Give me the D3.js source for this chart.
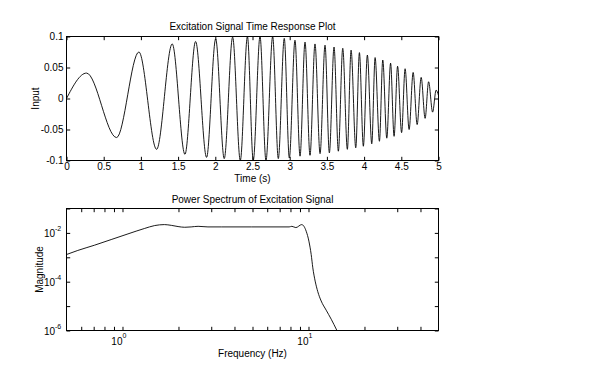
<!DOCTYPE html>
<html>
<head>
<meta charset="utf-8">
<script src="https://cdn.jsdelivr.net/npm/d3@7"></script>
<style>
  body { margin: 0; background: #fff; }
  svg { display: block; }
  text { fill: #000; }
</style>
</head>
<body>
<script>
// excitation signal: peaks and troughs (s, input)
const signalTime = [0,
  0.269, 0.673, 0.973, 1.211, 1.421, 1.592, 1.735, 1.883, 2.005, 2.120,
  2.233, 2.336, 2.432, 2.510, 2.601, 2.681, 2.771, 2.847, 2.927, 2.995,
  3.071, 3.139, 3.206, 3.273, 3.340, 3.408, 3.475, 3.533, 3.596, 3.654,
  3.713, 3.775, 3.825, 3.888, 3.937, 3.990, 4.044, 4.103, 4.148, 4.206,
  4.251, 4.305, 4.356, 4.403, 4.450, 4.504, 4.551, 4.605, 4.659, 4.713,
  4.767, 4.820, 4.867, 4.921, 4.968, 5.0];
const signalValue = [0,
  0.041, -0.063, 0.075, -0.082, 0.088, -0.090, 0.092, -0.095, 0.096, -0.097,
  0.099, -0.100, 0.100, -0.100, 0.100, -0.100, 0.100, -0.097, 0.097, -0.096,
  0.094, -0.093, 0.091, -0.0916, 0.088, -0.089, 0.086, -0.0877, 0.083, -0.085,
  0.081, -0.082, 0.078, -0.0795, 0.074, -0.077, 0.070, -0.073, 0.066, -0.069,
  0.062, -0.064, 0.057, -0.061, 0.052, -0.055, 0.048, -0.050, 0.042, -0.042,
  0.034, -0.032, 0.027, -0.022, 0.0135, 0.005];

const timeTicks = [0, 0.5, 1, 1.5, 2, 2.5, 3, 3.5, 4, 4.5, 5];
const inputTicks = [-0.1, -0.05, 0, 0.05, 0.1];
const inputTickLabels = ["-0.1", "-0.05", "0", "0.05", "0.1"];

// power spectrum (Hz, magnitude)
const freqHz = [0.5, 0.575, 0.706, 0.869, 1.07, 1.31, 1.49, 1.68, 1.83, 1.99,
  2.16, 2.34, 2.55, 2.88, 3.4, 4.93, 7.87, 8.14, 8.55, 9.2, 9.72, 10.05,
  10.34, 10.55, 10.86, 11.22, 11.7, 12.45, 13.25, 14.2];
const magnitude = [1.30e-3, 1.91e-3, 3.12e-3, 5.33e-3, 9.1e-3, 1.51e-2, 2.0e-2,
  2.19e-2, 2.04e-2, 1.82e-2, 1.70e-2, 1.76e-2, 1.86e-2, 1.76e-2, 1.76e-2,
  1.76e-2, 1.76e-2, 1.86e-2, 1.65e-2, 2.19e-2, 1.17e-2, 4.6e-3, 1.30e-3,
  3.7e-4, 1.06e-4, 3.9e-5, 1.62e-5, 6.8e-6, 2.9e-6, 1.02e-6];

const freqTicks = [0.6, 0.7, 0.8, 0.9, 1, 2, 3, 4, 5, 6, 7, 8, 9, 10, 20, 30, 40];
const freqLabelTicks = [1, 10];
const magTicks = [1e-6, 1e-5, 1e-4, 1e-3, 1e-2, 1e-1];
const magLabelTicks = [1e-6, 1e-4, 1e-2];

const FONT = '"Liberation Sans", Arial, Helvetica, sans-serif';
const left = 66.5, right = 438.5;
const top1 = 36.5, bottom1 = 160.5;
const top2 = 208.5, bottom2 = 330.5;
const tickLen = 3.7;
const midX = (left + right) / 2;

const svg = d3.select("body").append("svg")
  .attr("width", 600).attr("height", 379)
  .attr("font-family", FONT).attr("font-size", 10);

function cleanAxis(g) {
  g.select(".domain").remove();
  g.attr("font-family", FONT).attr("font-size", 10);
  g.selectAll("line").attr("stroke", "#000");
}

// ---------- top: time response ----------
const x1 = d3.scaleLinear().domain([0, 5]).range([left, right]);
const y1 = d3.scaleLinear().domain([-0.1, 0.1]).range([bottom1, top1]);

svg.append("clipPath").attr("id", "clip1")
  .append("rect").attr("x", left).attr("y", top1)
  .attr("width", right - left).attr("height", bottom1 - top1);

const line1 = d3.line()
  .x((d, i) => x1(signalTime[i]))
  .y(d => y1(d))
  .curve(d3.curveMonotoneX);

svg.append("path")
  .datum(signalValue)
  .attr("clip-path", "url(#clip1)")
  .attr("fill", "none")
  .attr("stroke", "#000")
  .attr("stroke-width", 0.9)
  .attr("d", line1);

svg.append("g").attr("transform", `translate(0,${bottom1})`)
  .call(d3.axisBottom(x1).tickValues(timeTicks).tickSize(-tickLen).tickSizeOuter(0)
    .tickPadding(2.5).tickFormat(d3.format("")))
  .call(cleanAxis);
svg.append("g").attr("transform", `translate(0,${top1})`)
  .call(d3.axisTop(x1).tickValues(timeTicks).tickSize(-tickLen).tickSizeOuter(0).tickFormat(""))
  .call(cleanAxis);
svg.append("g").attr("transform", `translate(${left},0)`)
  .call(d3.axisLeft(y1).tickValues(inputTicks).tickSize(-tickLen).tickSizeOuter(0)
    .tickPadding(3).tickFormat((d, i) => inputTickLabels[i]))
  .call(cleanAxis);
svg.append("g").attr("transform", `translate(${right},0)`)
  .call(d3.axisRight(y1).tickValues(inputTicks).tickSize(-tickLen).tickSizeOuter(0).tickFormat(""))
  .call(cleanAxis);

svg.append("rect")
  .attr("x", left).attr("y", top1)
  .attr("width", right - left).attr("height", bottom1 - top1)
  .attr("fill", "none").attr("stroke", "#000");

svg.append("text").attr("x", midX).attr("y", 30)
  .attr("text-anchor", "middle").text("Excitation Signal Time Response Plot");
svg.append("text").attr("x", midX).attr("y", 181.5)
  .attr("text-anchor", "middle").text("Time (s)");
svg.append("text")
  .attr("transform", `translate(38.5,${(top1 + bottom1) / 2}) rotate(-90)`)
  .attr("text-anchor", "middle").text("Input");

// ---------- bottom: power spectrum ----------
const x2 = d3.scaleLog().domain([0.5, 50]).range([left, right]);
const y2 = d3.scaleLog().domain([1e-6, 1e-1]).range([bottom2, top2]);

svg.append("clipPath").attr("id", "clip2")
  .append("rect").attr("x", left).attr("y", top2)
  .attr("width", right - left).attr("height", bottom2 - top2);

const line2 = d3.line()
  .x((d, i) => x2(freqHz[i]))
  .y(d => y2(d))
  .curve(d3.curveMonotoneX);

svg.append("path")
  .datum(magnitude)
  .attr("clip-path", "url(#clip2)")
  .attr("fill", "none")
  .attr("stroke", "#000")
  .attr("stroke-width", 0.9)
  .attr("d", line2);

svg.append("g").attr("transform", `translate(0,${bottom2})`)
  .call(d3.axisBottom(x2).tickValues(freqTicks).tickSize(-tickLen).tickSizeOuter(0).tickFormat(""))
  .call(cleanAxis);
svg.append("g").attr("transform", `translate(0,${top2})`)
  .call(d3.axisTop(x2).tickValues(freqTicks).tickSize(-tickLen).tickSizeOuter(0).tickFormat(""))
  .call(cleanAxis);
svg.append("g").attr("transform", `translate(${left},0)`)
  .call(d3.axisLeft(y2).tickValues(magTicks).tickSize(-tickLen).tickSizeOuter(0).tickFormat(""))
  .call(cleanAxis);
svg.append("g").attr("transform", `translate(${right},0)`)
  .call(d3.axisRight(y2).tickValues(magTicks).tickSize(-tickLen).tickSizeOuter(0).tickFormat(""))
  .call(cleanAxis);

// power-of-ten labels: "10" plus a raised exponent
const freqLab = svg.append("g").selectAll("g").data(freqLabelTicks).join("g")
  .attr("transform", d => `translate(${x2(d)},0)`);
freqLab.append("text").attr("y", 344.5).attr("text-anchor", "end").text("10");
freqLab.append("text").attr("y", 338).attr("font-size", 7).text(d => Math.round(Math.log10(d)));

const magLab = svg.append("g").selectAll("g").data(magLabelTicks).join("g")
  .attr("transform", d => `translate(55,${y2(d)})`);
magLab.append("text").attr("y", 4).attr("text-anchor", "end").text("10");
magLab.append("text").attr("y", -2).attr("font-size", 7).text(d => Math.round(Math.log10(d)));

svg.append("rect")
  .attr("x", left).attr("y", top2)
  .attr("width", right - left).attr("height", bottom2 - top2)
  .attr("fill", "none").attr("stroke", "#000");

svg.append("text").attr("x", midX).attr("y", 202.5)
  .attr("text-anchor", "middle").text("Power Spectrum of Excitation Signal");
svg.append("text").attr("x", midX).attr("y", 357)
  .attr("text-anchor", "middle").text("Frequency (Hz)");
svg.append("text")
  .attr("transform", `translate(43,${(top2 + bottom2) / 2}) rotate(-90)`)
  .attr("text-anchor", "middle").text("Magnitude");
</script>
</body>
</html>
